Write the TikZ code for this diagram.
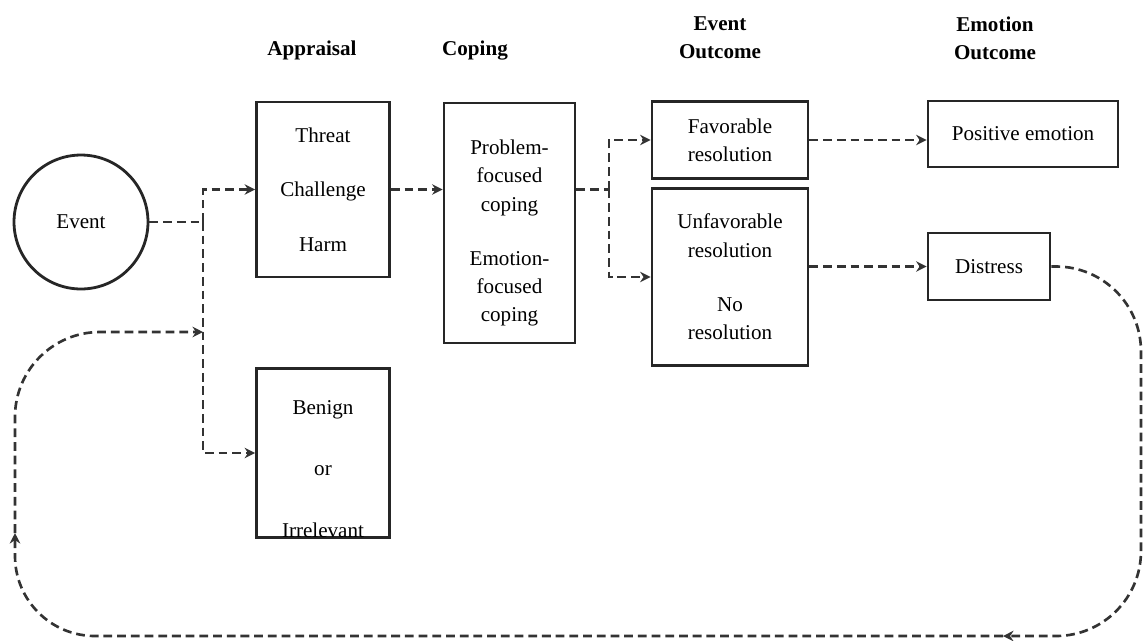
\documentclass[tikz,border=0pt]{standalone}
\usepackage{fontspec}
\setmainfont{Liberation Serif}
\usetikzlibrary{arrows.meta}

\begin{document}
\begin{tikzpicture}[
        x=0.02cm, y=-0.02cm,
        box/.style={draw=black!85, line width=1.6pt, align=center, inner sep=0pt,
            font=\fontsize{12}{16}\selectfont},
        head/.style={align=center, font=\fontsize{12}{16}\selectfont\bfseries},
        flow/.style={draw=black!80, line width=1.5pt, dash pattern=on 5pt off 2.8pt,
            -{Stealth[length=6pt,width=6pt,inset=2pt]}},
        link/.style={flow, -}
    ]
        \useasboundingbox (0,0) rectangle (1145,640);

        % Column headings
        \node[head] (happ) at (312,50) {Appraisal};
        \node[head] (hcop) at (475,51) {Coping};
        \node[head] (hevt) at (720,38) {Event\\Outcome};
        \node[head] (hemo) at (995,38) {Emotion\\Outcome};

        % Boxes
        \node[box, circle, minimum size=2.68cm] (event) at (81,222) {Event};
        \node[box, minimum width=2.66cm, minimum height=3.5cm] (threat) at (323,189.5)
            {Threat\\[15pt]Challenge\\[15pt]Harm};
        \node[box, minimum width=2.66cm, minimum height=3.06cm] (benign) at (323,453)
            {\rule{0pt}{26pt}Benign\\[19pt]or\\[19pt]Irrelevant};
        \node[box, minimum width=2.62cm, minimum height=4.8cm] (coping) at (509.5,223)
            {\rule{0pt}{20pt}Problem-\\focused\\coping\\[15pt]Emotion-\\focused\\coping};
        \node[box, minimum width=3.12cm, minimum height=1.54cm] (fav) at (730,140)
            {Favorable\\resolution};
        \node[box, minimum width=3.12cm, minimum height=3.54cm] (unfav) at (730,277)
            {Unfavorable\\resolution\\[15pt]No\\resolution};
        \node[box, minimum width=3.8cm, minimum height=1.32cm] (pos) at (1023,134)
            {Positive emotion};
        \node[box, minimum width=2.44cm, minimum height=1.34cm] (distress) at (989,266.5)
            {Distress};

        % Forward flow
        \coordinate (split) at (203,222);
        \draw[link] (event) -- (split);
        \draw[flow] (split) |- (threat.west);
        \draw[flow] (split) |- (benign.west);
        \draw[flow] (threat.east) -- (threat.east -| coping.west);

        \coordinate (fork) at (609,189.5);
        \draw[link] (coping.east |- threat.east) -- (fork);
        \draw[flow] (fork) |- (fav.west);
        \draw[flow] (fork) |- (unfav.west);
        \draw[flow] (fav.east) -- (fav.east -| pos.west);
        \draw[flow] (distress.west -| unfav.east) -- (distress.west);

        % Loop back from distress
        \coordinate (se) at (1141,636);
        \coordinate (tipb) at (1003,636);
        \coordinate (tipl) at (15,533);
        \coordinate (back) at (203,332);
        \draw[flow, rounded corners=1.7cm] (distress.east) -| (se) -- (tipb);
        \draw[flow, rounded corners=1.6cm] (tipb) -| (tipl);
        \draw[flow, rounded corners=1.7cm] (tipl) |- (back);

    \end{tikzpicture}
\end{document}
